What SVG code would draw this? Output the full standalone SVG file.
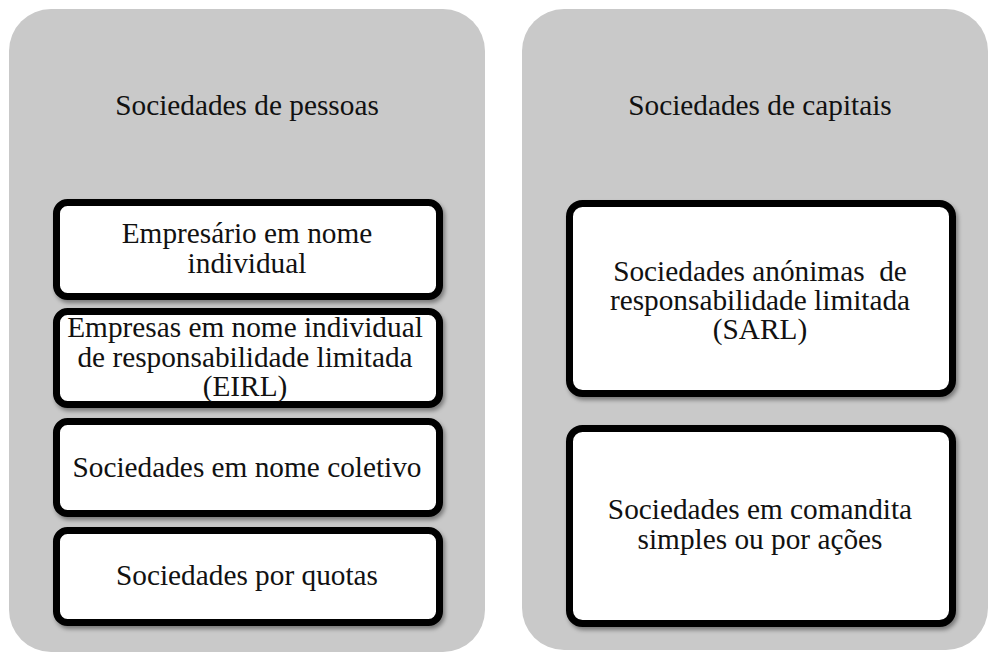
<svg xmlns="http://www.w3.org/2000/svg" width="989" height="652" viewBox="0 0 989 652">
<style>
.panel{fill:#c9c9c9;}
.box{fill:#fff;stroke:#000;stroke-width:7;}
text{font-family:"Liberation Serif","Times New Roman",serif;font-size:29.3px;fill:#111;text-anchor:middle;}
</style>
<defs>
<filter id="sh" x="-10%" y="-10%" width="120%" height="130%">
<feDropShadow dx="2" dy="3" stdDeviation="2" flood-color="#000" flood-opacity="0.4"/>
</filter>
</defs>
<rect width="989" height="652" fill="#fff"/>
<g id="panel-pessoas">
<rect class="panel" x="9" y="9" width="476" height="643" rx="42"/>
<text x="247" y="115">Sociedades de pessoas</text>
</g>
<g id="panel-capitais">
<rect class="panel" x="522" y="9" width="466" height="641" rx="42"/>
<text x="760" y="115">Sociedades de capitais</text>
</g>
<g id="connectors"></g>
<g id="empresario">
<rect class="box" x="56.5" y="202.5" width="383" height="94" rx="11" filter="url(#sh)"/>
<text x="247" y="243">Empresário em nome</text>
<text x="247" y="273">individual</text>
</g>
<g id="eirl">
<rect class="box" x="56.5" y="311.5" width="383" height="93" rx="11" filter="url(#sh)"/>
<text x="245" y="337">Empresas em nome individual</text>
<text x="245" y="366.5">de responsabilidade limitada</text>
<text x="245" y="396">(EIRL)</text>
</g>
<g id="nome-coletivo">
<rect class="box" x="56.5" y="421.5" width="383" height="92" rx="11" filter="url(#sh)"/>
<text x="247" y="477">Sociedades em nome coletivo</text>
</g>
<g id="quotas">
<rect class="box" x="56.5" y="530.5" width="383" height="92" rx="11" filter="url(#sh)"/>
<text x="247" y="585">Sociedades por quotas</text>
</g>
<g id="sarl">
<rect class="box" x="569.5" y="203.5" width="383" height="190" rx="13" filter="url(#sh)"/>
<text x="760" y="281" xml:space="preserve" style="white-space:pre">Sociedades anónimas  de</text>
<text x="760" y="310">responsabilidade limitada</text>
<text x="760" y="339">(SARL)</text>
</g>
<g id="comandita">
<rect class="box" x="569.5" y="428.5" width="383" height="195" rx="13" filter="url(#sh)"/>
<text x="760" y="519">Sociedades em comandita</text>
<text x="760" y="548.5">simples ou por ações</text>
</g>
</svg>
